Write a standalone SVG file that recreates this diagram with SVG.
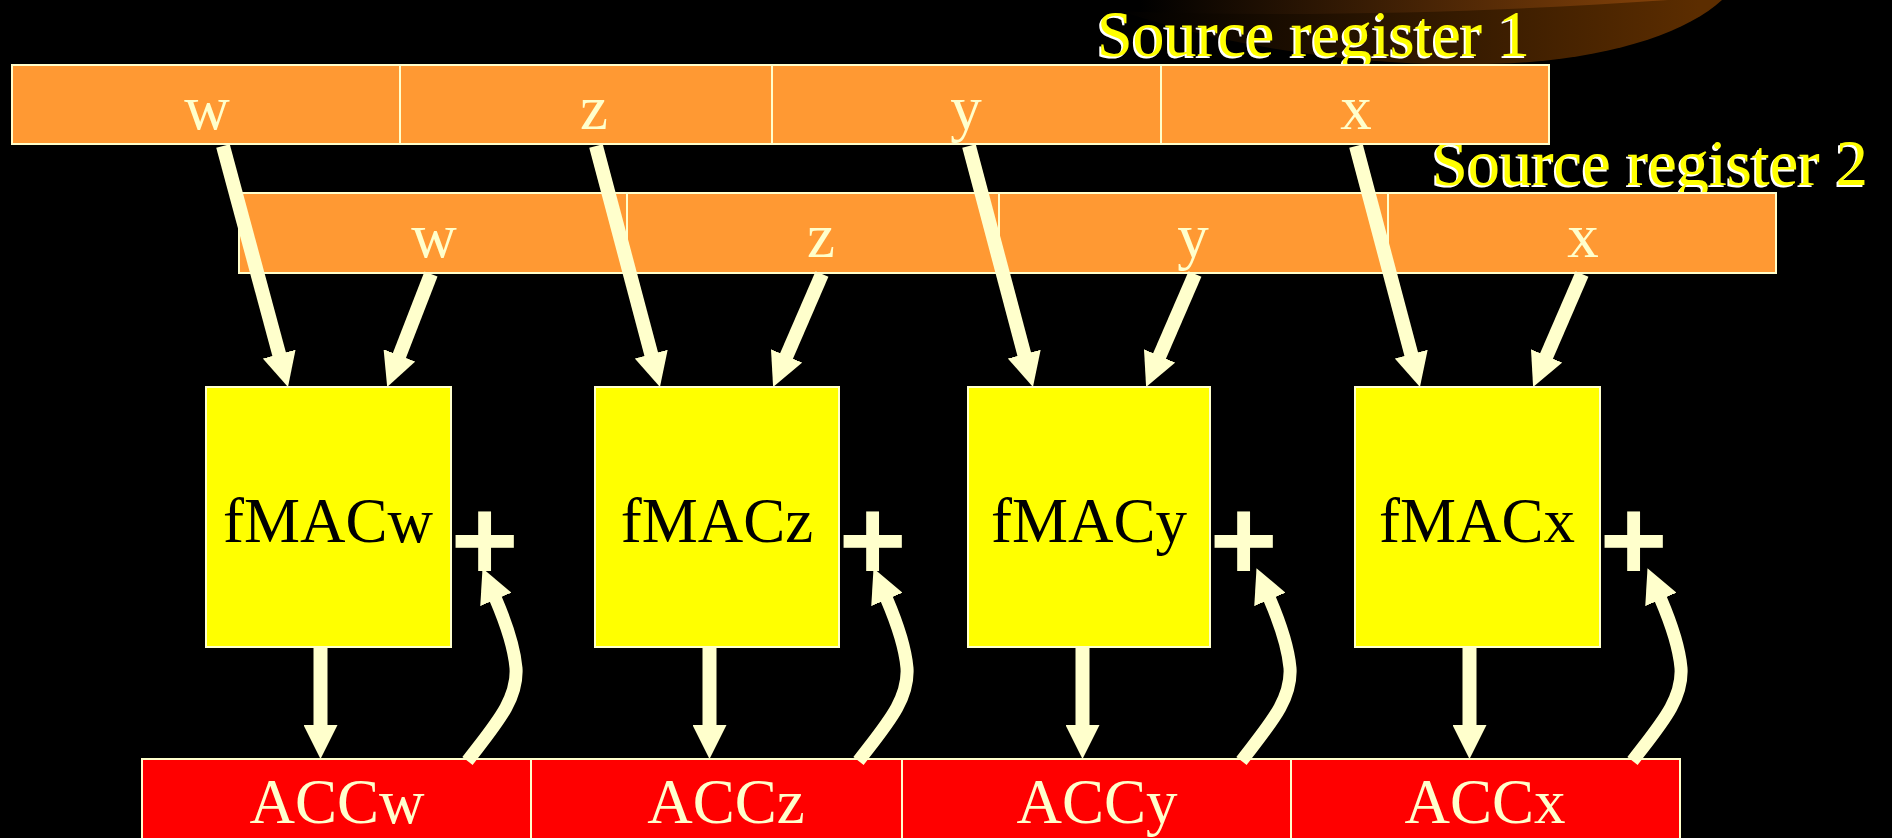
<svg xmlns="http://www.w3.org/2000/svg" width="1892" height="838" viewBox="0 0 1892 838">
<defs>
<linearGradient id="gOuter" gradientUnits="userSpaceOnUse" x1="1120" y1="0" x2="1700" y2="0">
<stop offset="0" stop-color="#000000"/>
<stop offset="1" stop-color="#5c2d00"/>
</linearGradient>
<linearGradient id="gInner" gradientUnits="userSpaceOnUse" x1="1140" y1="0" x2="1660" y2="0">
<stop offset="0" stop-color="#000000"/>
<stop offset="1" stop-color="#824109"/>
</linearGradient>
<marker id="ah" markerUnits="userSpaceOnUse" markerWidth="34" markerHeight="34" viewBox="0 0 34 34" refX="1" refY="17" orient="auto">
<path d="M0,0 L34,17 L0,34 Z" fill="#FFFFCC"/>
</marker>
</defs>
<style>
.reg{fill:#FF9933;stroke:#FFFFCC;stroke-width:2}
.fmac{fill:#FFFF00;stroke:#FFFFCC;stroke-width:2}
.acc{fill:#FF0000;stroke:#FFFFCC;stroke-width:2}
.lbl{font-family:"Liberation Serif","Times New Roman",serif;font-size:63px;text-anchor:middle}
.cream{fill:#FFFFCC}
.dark{fill:#000000}
.title{font-family:"Liberation Serif","Times New Roman",serif;font-size:65px}
.arr{fill:none;stroke:#FFFFCC;stroke-width:14;marker-end:url(#ah)}
.carr{fill:none;stroke:#FFFFCC;stroke-width:13;marker-end:url(#ah)}
.plus{font-family:"Liberation Sans",Arial,sans-serif;font-weight:bold;font-size:116px;text-anchor:middle;fill:#FFFFCC}
</style>
<rect x="0" y="0" width="1892" height="838" fill="#000000"/>
<g id="decor">
<path d="M1090 0 C1220 50 1390 72 1530 62 C1620 55 1690 30 1722 0 Z" fill="url(#gOuter)"/>
<path d="M1110 0 L1110 11 C1300 18 1500 12 1668 0 Z" fill="url(#gInner)"/>
</g>
<g id="title1">
<text class="title" x="1095" y="58" fill="#FFFFFF" textLength="433" lengthAdjust="spacingAndGlyphs">Source register 1</text>
<text class="title" x="1097" y="56" fill="#FFFF00" textLength="433" lengthAdjust="spacingAndGlyphs">Source register 1</text>
</g>
<g id="title2">
<text class="title" x="1430" y="187" fill="#FFFFFF" textLength="436" lengthAdjust="spacingAndGlyphs">Source register 2</text>
<text class="title" x="1432" y="185" fill="#FFFF00" textLength="436" lengthAdjust="spacingAndGlyphs">Source register 2</text>
</g>
<g id="src1">
<rect class="reg" x="12" y="65" width="388" height="79"/>
<rect class="reg" x="400" y="65" width="372" height="79"/>
<rect class="reg" x="772" y="65" width="389" height="79"/>
<rect class="reg" x="1161" y="65" width="388" height="79"/>
<text class="lbl cream" x="207" y="129">w</text>
<text class="lbl cream" x="594" y="129">z</text>
<text class="lbl cream" x="966" y="129">y</text>
<text class="lbl cream" x="1356" y="129">x</text>
</g>
<g id="src2">
<rect class="reg" x="239" y="193" width="388" height="80"/>
<rect class="reg" x="627" y="193" width="372" height="80"/>
<rect class="reg" x="999" y="193" width="389" height="80"/>
<rect class="reg" x="1388" y="193" width="388" height="80"/>
<text class="lbl cream" x="434" y="257">w</text>
<text class="lbl cream" x="821" y="257">z</text>
<text class="lbl cream" x="1193" y="257">y</text>
<text class="lbl cream" x="1583" y="257">x</text>
</g>
<g id="fmacw">
<rect class="fmac" x="206" y="387" width="245" height="260"/>
<text class="lbl dark" x="328" y="542">fMACw</text>
</g>
<g id="fmacz">
<rect class="fmac" x="595" y="387" width="244" height="260"/>
<text class="lbl dark" x="717" y="542">fMACz</text>
</g>
<g id="fmacy">
<rect class="fmac" x="968" y="387" width="242" height="260"/>
<text class="lbl dark" x="1089" y="542">fMACy</text>
</g>
<g id="fmacx">
<rect class="fmac" x="1355" y="387" width="245" height="260"/>
<text class="lbl dark" x="1477" y="542">fMACx</text>
</g>
<g id="plusw"><text class="plus" x="484.5" y="580">+</text></g>
<g id="plusz"><text class="plus" x="872.5" y="580">+</text></g>
<g id="plusy"><text class="plus" x="1243.5" y="580">+</text></g>
<g id="plusx"><text class="plus" x="1633.5" y="580">+</text></g>
<g id="acc">
<rect class="acc" x="142" y="759" width="389" height="82"/>
<rect class="acc" x="531" y="759" width="371" height="82"/>
<rect class="acc" x="902" y="759" width="389" height="82"/>
<rect class="acc" x="1291" y="759" width="389" height="82"/>
<text class="lbl cream" x="337" y="823">ACCw</text>
<text class="lbl cream" x="726" y="823">ACCz</text>
<text class="lbl cream" x="1097" y="823">ACCy</text>
<text class="lbl cream" x="1485" y="823">ACCx</text>
</g>
<g id="connectors">
<path class="arr" d="M223 146 L279.4 355.1"/>
<path class="arr" d="M431 274 L399.1 356.3"/>
<path class="arr" d="M596 146 L651.5 355.1"/>
<path class="arr" d="M822 274 L786.2 356.8"/>
<path class="arr" d="M969 146 L1024.5 355.1"/>
<path class="arr" d="M1195 274 L1159.2 356.8"/>
<path class="arr" d="M1356 146 L1411.5 355.1"/>
<path class="arr" d="M1582 274 L1546.2 356.8"/>
<path class="arr" d="M320.5 647 L320.5 726"/>
<path class="arr" d="M709.5 647 L709.5 726"/>
<path class="arr" d="M1082.5 647 L1082.5 726"/>
<path class="arr" d="M1469.5 647 L1469.5 726"/>
<path class="carr" d="M467.5 761 C495 725 518 700 516 668 C514 645 504.5 619.5 495.5 598.5"/>
<path class="carr" transform="translate(391,0)" d="M467.5 761 C495 725 518 700 516 668 C514 645 504.5 619.5 495.5 598.5"/>
<path class="carr" transform="translate(774,0)" d="M467.5 761 C495 725 518 700 516 668 C514 645 504.5 619.5 495.5 598.5"/>
<path class="carr" transform="translate(1165,0)" d="M467.5 761 C495 725 518 700 516 668 C514 645 504.5 619.5 495.5 598.5"/>
</g>
</svg>
